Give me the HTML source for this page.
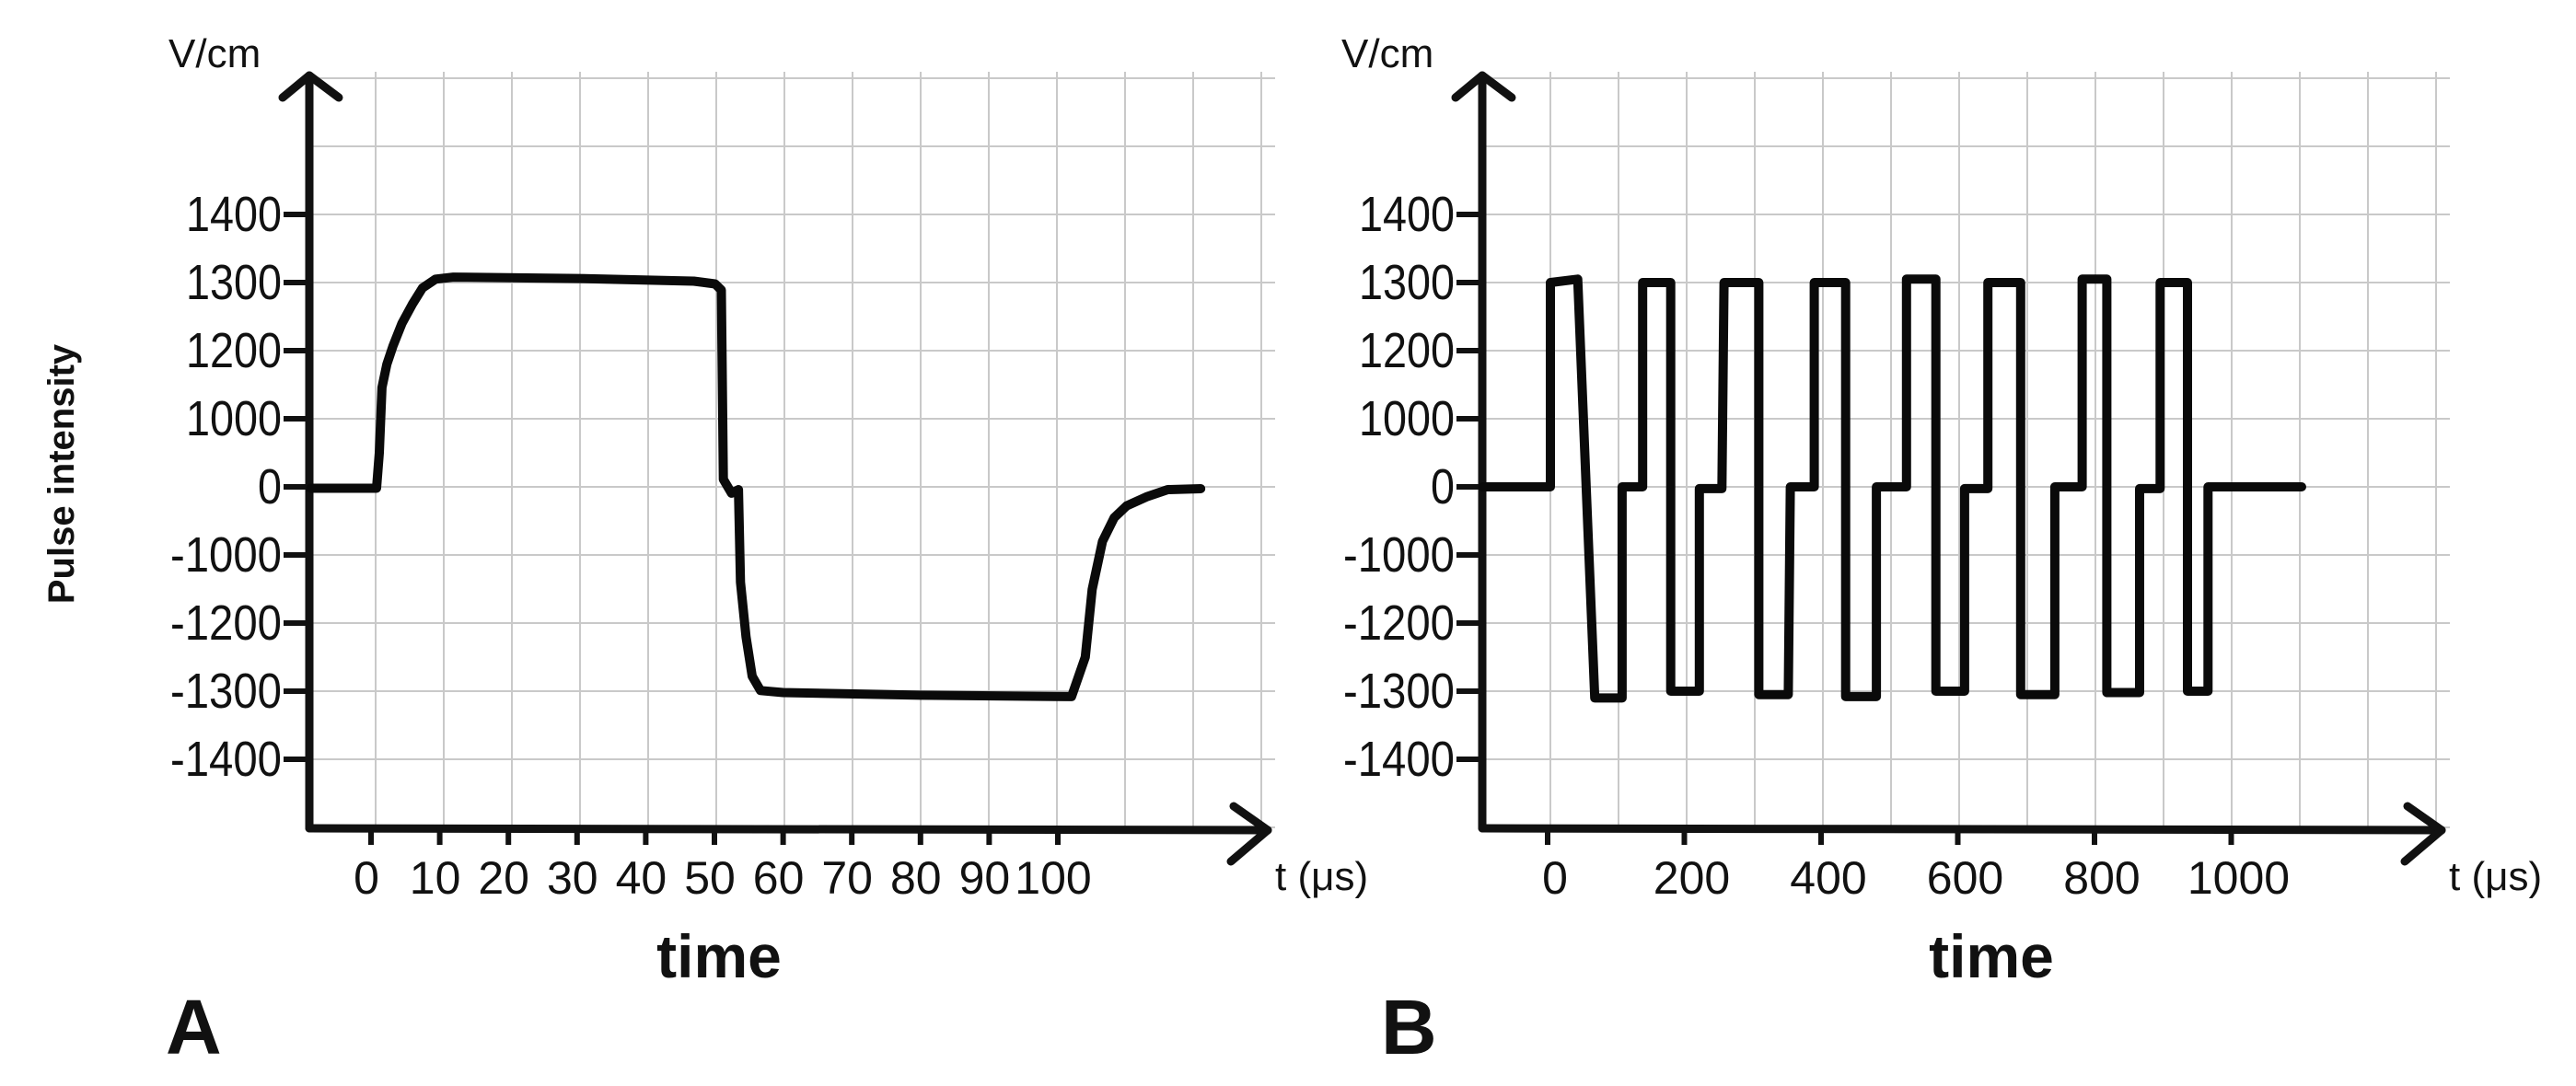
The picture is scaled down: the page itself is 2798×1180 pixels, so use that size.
<!DOCTYPE html>
<html><head><meta charset="utf-8"><style>
html,body{margin:0;padding:0;background:#fff;}
svg{display:block;}
text{font-family:"Liberation Sans",sans-serif;fill:#111;}
</style></head><body>
<svg id="chart" width="2798" height="1180" viewBox="0 0 2798 1180" xmlns="http://www.w3.org/2000/svg"></svg>
<script>
// shared y ticks (categorical hand-drawn scale)
const yTicks = [1400, 1300, 1200, 1000, 0, -1000, -1200, -1300, -1400];
// panel A
const aTicks = [0,10,20,30,40,50,60,70,80,90,100];
const aX = [-8.8,0.8,1.2,1.6,2.3,3.2,4.5,6,7.5,9.4,12,30,47,50.1,51,51.3,52.5,53.5,53.8,54.6,55.5,56.7,60,80,102,104,105,106.5,108.2,110,112.9,116,120.8];
const aY = [-20,-20,500,1092,1160,1207,1240,1268,1292,1305,1308,1306,1302,1298,1289,111,-93,-40,-1080,-1220,-1278,-1299,-1302,-1306,-1308,-1250,-1101,-800,-453,-280,-147,-40,-27];
// panel B
const bTicks = [0,200,400,600,800,1000];
const bX = [-95,4,4,44,69,109,109,139,139,180,180,222,222,255,258,309,309,352,355,390,390,436,436,481,481,525,525,568,568,610,610,644,644,692,692,742,742,782,782,818,818,866,866,896,896,936,936,966,966,1103];
const bY = [0,0,1300,1305,-1310,-1310,0,0,1300,1300,-1300,-1300,-25,-25,1300,1300,-1305,-1305,0,0,1300,1300,-1308,-1308,0,0,1305,1305,-1300,-1300,-25,-25,1300,1300,-1305,-1305,0,0,1305,1305,-1302,-1302,-25,-25,1300,1300,-1300,-1300,0,0];

const NS='http://www.w3.org/2000/svg';
const svg=document.getElementById('chart');
function mk(tag,attrs,parent){const e=document.createElementNS(NS,tag);for(const k in attrs)e.setAttribute(k,attrs[k]);(parent||svg).appendChild(e);return e;}

const Y0=233, YSTEP=74;
function yScale(v){
  for(let i=0;i<yTicks.length-1;i++){
    const a=yTicks[i],b=yTicks[i+1];
    if(v<=a&&v>=b){return Y0+(i+(a-v)/(a-b))*YSTEP;}
  }
  if(v>yTicks[0])return Y0-(v-yTicks[0])/100*YSTEP;
  return Y0+(yTicks.length-1)*YSTEP+(yTicks[yTicks.length-1]-v)/100*YSTEP;
}

function panel(o){
  const g=mk('g',{});
  
  
  const grid=mk('g',{stroke:'#c9c9c9','stroke-width':2},g);
  
  
  for(let x=o.gx0;x<=o.gx1+1;x+=74){mk('line',{x1:x,y1:78,x2:x,y2:899},grid);}
  for(let y=159;y<=899;y+=74){mk('line',{x1:o.ax,y1:y,x2:o.gx1+15,y2:y},grid);}
  mk('line',{x1:o.ax,y1:85,x2:o.gx1+15,y2:85},grid);
  const ax=mk('g',{stroke:'#111','stroke-width':9,fill:'none','stroke-linecap':'round','stroke-linejoin':'round'},g);
  
  
  mk('line',{x1:o.ax,y1:82,x2:o.ax,y2:900},ax);
  mk('polyline',{points:`${o.ax-29},106 ${o.ax},82 ${o.ax+32},106`},ax);
  mk('line',{x1:o.ax,y1:900,x2:o.tip,y2:902},ax);
  mk('polyline',{points:`${o.tip-37},876 ${o.tip},902 ${o.tip-40},936`},ax);
  yTicks.forEach(v=>{
    const y=yScale(v);
    const t=mk('line',{x1:o.ax-28,y1:y,x2:o.ax,y2:y,stroke:'#111','stroke-width':6},g);
    
    
    const s=String(v);
    const len=[...s].reduce((a,c)=>a+(c==='-'?17:26),0);
    const l=mk('text',{x:o.ax-30,y:y+18,'text-anchor':'end','font-size':54,textLength:len,lengthAdjust:'spacingAndGlyphs'},g);
    l.textContent=s;
    
    
  });
  o.ticks.forEach(v=>{
    const x=o.xs(v);
    const t=mk('line',{x1:x,y1:900,x2:x,y2:918,stroke:'#111','stroke-width':6},g);
    
    
    const l=mk('text',{x:x+o.lo,y:971,'text-anchor':'middle','font-size':50},g);
    l.textContent=v;
    
    
  });
  const pts=o.X.map((v,i)=>o.xs(v).toFixed(1)+','+yScale(o.Y[i]).toFixed(1)).join(' ');
  const p=mk('polyline',{points:pts,fill:'none',stroke:'#0a0a0a','stroke-width':10,'stroke-linejoin':'round','stroke-linecap':'round'},g);
  
  
  const u=mk('text',{x:o.ax-153,y:73,'font-size':44},g);u.textContent='V/cm';
  
  
  const tl=mk('text',{x:o.tip+8,y:967,'font-size':44},g);tl.textContent='t (μs)';
  
  
  const tm=mk('text',{x:o.timeX,y:1062,'font-size':66,'font-weight':'bold','text-anchor':'middle'},g);tm.textContent='time';
  
  
  const pl=mk('text',{x:o.letterX,y:1145,'font-size':84,'font-weight':'bold'},g);pl.textContent=o.letter;
  
  
}

panel({name:'panel-a',ax:336,gx0:408,gx1:1370,tip:1377,ticks:aTicks,xs:v=>403+v*7.46,lo:-5,X:aX,Y:aY,timeX:781,letterX:180,letter:'A'});
panel({name:'panel-b',ax:1610,gx0:1684,gx1:2646,tip:2652,ticks:bTicks,xs:v=>1681+v*0.7425,lo:8,X:bX,Y:bY,timeX:2163,letterX:1500,letter:'B'});

const yt=mk('text',{x:0,y:0,'font-size':40,'font-weight':'bold','text-anchor':'middle',transform:'translate(80,515) rotate(-90)'});
yt.textContent='Pulse intensity';


</script>
</body></html>
